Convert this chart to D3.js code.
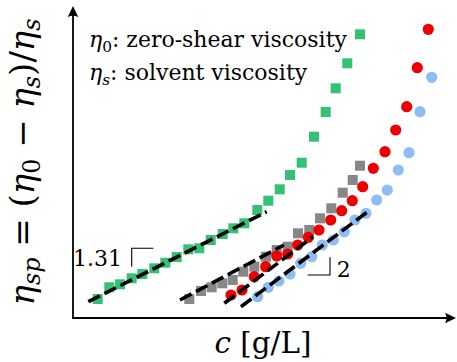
<!DOCTYPE html>
<html>
<head>
<meta charset="utf-8">
<script src="https://cdn.jsdelivr.net/npm/d3@7"></script>
<style>
  body { margin: 0; background: #fff; }
  svg { display: block; font-family: 'DejaVu Serif', 'Liberation Serif', serif; }
</style>
</head>
<body>
<div id="chart"></div>
<script>
// arbitrary units (log-log plot without ticks)
var green = [[24.7,19],[36.3,30.7],[47,33.7],[58.7,39.7],[69.3,44],[81.3,49.7],[92.3,55.3],[103.7,61],
  [115.3,68.7],[126.3,69.7],[137.7,78],[149.7,84],[160.3,89.7],[171.3,94.7],[184.3,108],[195.3,117.3],
  [206.7,128.7],[217,143],[228.7,155.3],[241,181.3],[252.7,206],[262.7,229.7],[274.3,254.7],[287,283.7]];
var gray = [[116.3,19],[128,27],[138.7,30.7],[149.3,34.7],[159.7,38],[170.3,46.3],[181.3,51.3],[193,61.3],
  [203.7,68],[214.7,71.3],[225,84.7],[236.3,88],[247,99.7],[258.3,109.7],[269.7,125.3],[279.7,138],[287,152.3]];
var red = [[158,23],[169,28],[181.3,41.3],[192.7,51.3],[203.7,62],[214.7,64],[224.7,73],[235.3,80.7],
  [246,88],[257.7,98],[268.7,107.3],[279.3,117.3],[289.7,131.3],[300.3,149.7],[312,166.3],[322.7,188],
  [333.7,211.3],[344.3,250.3],[355.3,288.7]];
var blue = [[184.7,21.3],[195.3,30.7],[206,37],[217,44],[227.7,54.7],[238.7,61.3],[249.3,73],[260.3,78],
  [271.3,86.3],[282,98],[293,104.7],[303.7,118],[314.3,128],[325.3,148],[336,165.3],[347,206.3],[358.7,240.7]];

// dashed power-law fits
var fits = [
  [[15.3,16.3],[193.7,106.3]],
  [[107,18],[211,73]],
  [[151.3,14.7],[240,81.3]],
  [[168,11.3],[297,108]]
];

// slope markers
var slopeA = { label: '1.31', corner: [[58.7,51.3],[58.7,69.7],[80.3,69.7]], at: [49,52] };
var slopeB = { label: '2', corner: [[234.7,43],[257,43],[257,60.7]], at: [263.7,41.3] };

var width = 457, height = 362;

var x = d3.scaleLinear().domain([0, 379]).range([73, 452]);
var y = d3.scaleLinear().domain([0, 318]).range([318, 0]);

var svg = d3.select('#chart').append('svg')
  .attr('width', width)
  .attr('height', height);

// squeeze/stretch a text node to a wanted width by its font size
function fit(t, w) {
  var fs = +t.attr('font-size');
  var len = t.node().getComputedTextLength();
  if (len > 0) t.attr('font-size', (fs * w / len).toFixed(2));
}

// axes with arrow heads
var axisColor = '#000';
svg.append('line')
  .attr('x1', x(0)).attr('y1', y(0))
  .attr('x2', x(0)).attr('y2', 12)
  .attr('stroke', axisColor).attr('stroke-width', 1.8);
svg.append('line')
  .attr('x1', x(0) - 0.9).attr('y1', y(0))
  .attr('x2', 448).attr('y2', y(0))
  .attr('stroke', axisColor).attr('stroke-width', 1.8);

function arrow(tx, ty, angle) {
  svg.append('path')
    .attr('d', 'M0,0 L-11,-5.2 Q-8,0 -11,5.2 Z')
    .attr('transform', 'translate(' + tx + ',' + ty + ') rotate(' + angle + ')')
    .attr('fill', axisColor);
}
arrow(x(0), 6, -90);
arrow(456, y(0), 0);

var marks = svg.append('g');

var sq = 10;
marks.selectAll('.g').data(green).enter().append('rect')
  .attr('x', function (d) { return x(d[0]) - sq / 2 })
  .attr('y', function (d) { return y(d[1]) - sq / 2 })
  .attr('width', sq).attr('height', sq)
  .attr('fill', '#33c173');

marks.selectAll('.k').data(gray).enter().append('rect')
  .attr('x', function (d) { return x(d[0]) - sq / 2 })
  .attr('y', function (d) { return y(d[1]) - sq / 2 })
  .attr('width', sq).attr('height', sq)
  .attr('fill', '#878787');

marks.selectAll('.r').data(red).enter().append('circle')
  .attr('cx', function (d) { return x(d[0]) })
  .attr('cy', function (d) { return y(d[1]) })
  .attr('r', 5.6)
  .attr('fill', '#ee0000');

marks.selectAll('.b').data(blue).enter().append('circle')
  .attr('cx', function (d) { return x(d[0]) })
  .attr('cy', function (d) { return y(d[1]) })
  .attr('r', 5.6)
  .attr('fill', '#8dbdf3');

var line = d3.line()
  .x(function (d) { return x(d[0]) })
  .y(function (d) { return y(d[1]) });

svg.append('g').selectAll('path').data(fits).enter().append('path')
  .attr('d', line)
  .attr('fill', 'none')
  .attr('stroke', '#000')
  .attr('stroke-width', 3.6)
  .attr('stroke-dasharray', '13,5');

[slopeA, slopeB].forEach(function (s) {
  svg.append('path')
    .attr('d', line(s.corner))
    .attr('fill', 'none')
    .attr('stroke', '#000')
    .attr('stroke-width', 1.1);
});

svg.append('text')
  .attr('x', x(slopeA.at[0])).attr('y', y(slopeA.at[1]))
  .attr('text-anchor', 'end')
  .attr('font-size', 22)
  .text(slopeA.label);
svg.append('text')
  .attr('x', x(slopeB.at[0])).attr('y', y(slopeB.at[1]))
  .attr('font-size', 22)
  .text(slopeB.label);

// eta with a subscript, then the rest of the text back on the baseline
function etaSub(t, sub, subItalic, shift, rest) {
  t.append('tspan').attr('font-style', 'italic').text('η');
  t.append('tspan').attr('font-size', '0.7em').attr('dy', shift)
    .attr('font-style', subItalic ? 'italic' : 'normal').text(sub);
  if (rest) t.append('tspan').attr('dy', -shift).text(rest);
}

var n1 = svg.append('text').attr('x', 89).attr('y', 46.5).attr('font-size', 20);
etaSub(n1, '0', false, 5, ':  zero-shear viscosity');
fit(n1, 258);

var n2 = svg.append('text').attr('x', 89).attr('y', 80).attr('font-size', n1.attr('font-size'));
etaSub(n2, 's', true, 5, ':  solvent viscosity');

// axis titles
var xt = svg.append('text')
  .attr('x', 263).attr('y', 353)
  .attr('text-anchor', 'middle')
  .attr('font-size', 24);
xt.append('tspan').attr('font-style', 'italic').text('c');
xt.append('tspan').text(' [g/L]');
fit(xt, 97);

var yt = svg.append('text')
  .attr('transform', 'translate(34,162) rotate(-90)')
  .attr('text-anchor', 'middle')
  .attr('font-size', 24);
etaSub(yt, 'sp', true, 6, ' = (');
etaSub(yt, '0', false, 6, ' − ');
etaSub(yt, 's', true, 6, ')/');
etaSub(yt, 's', true, 6, null);
fit(yt, 287);
</script>
</body>
</html>
